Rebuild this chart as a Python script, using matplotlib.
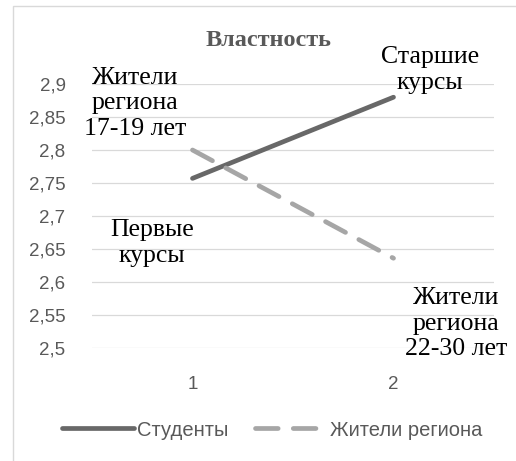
import matplotlib.pyplot as plt
from matplotlib.patches import Rectangle

# данные
groups = [1, 2]
students = [2.757, 2.880]
residents = [2.800, 2.636]
yticks = [2.5, 2.55, 2.6, 2.65, 2.7, 2.75, 2.8, 2.85, 2.9]
ytick_labels = ['2,5', '2,55', '2,6', '2,65', '2,7', '2,75', '2,8', '2,85', '2,9']

fig = plt.figure(figsize=(5.16, 4.61), dpi=100)
ax = fig.add_axes([92/516, 1-348/461, (494-92)/516, (348-84)/461])

# рамка вокруг диаграммы
fig.patches.append(Rectangle((13/516, -0.05), 1.1, 1.05-6/461, transform=fig.transFigure,
                             fill=False, edgecolor='#d9d9d9', linewidth=1))

ax.plot(groups, students, color='#686868', linewidth=3.4, solid_capstyle='round', label='Студенты')
ax.plot(groups, residents, color='#a6a6a6', linewidth=3.4, dashes=(4.8, 3.2),
        dash_capstyle='round', label='Жители региона')

ax.set_xlim(0.5, 2.5)
ax.set_ylim(2.5, 2.9)
ax.set_xticks(groups)
ax.set_xticklabels(['1', '2'])
ax.set_yticks(yticks)
ax.set_yticklabels(ytick_labels)
ax.grid(axis='y', color='#d9d9d9', linewidth=0.9)
ax.set_axisbelow(True)
for s in ax.spines.values():
    s.set_visible(False)
ax.tick_params(length=0, labelsize=13.5, labelcolor='#595959')
ax.tick_params(axis='y', pad=19)
ax.tick_params(axis='x', pad=20)
for lb in ax.get_xticklabels() + ax.get_yticklabels():
    lb.set_family('Liberation Sans')

fig.text(268/516, 1-41/461, 'Властность', family='Liberation Serif', fontweight='bold',
         fontsize=17.5, color='#595959', ha='center', va='center')

serif = dict(family='Liberation Serif', fontsize=18.5, color='black', ha='center', va='center',
             linespacing=1.2, clip_on=False)
ax.text(0.714, 2.871, 'Жители\nрегиона\n17-19 лет', **serif)
ax.text(2.18, 2.921, 'Старшие\nкурсы', **serif)
ax.text(0.80, 2.659, 'Первые\nкурсы', **serif)
ax.text(2.31, 2.537, 'Жители\nрегиона\n22-30 лет', **serif)

leg = fig.legend(loc='center', bbox_to_anchor=(272/516, 1-430/461), ncol=2, frameon=False,
                 handlelength=3.6, handletextpad=0.15, columnspacing=1.3,
                 prop={'family': 'Liberation Sans', 'size': 14.5})
for t in leg.get_texts():
    t.set_color('#595959')

fig.savefig('out.png', dpi=100)
